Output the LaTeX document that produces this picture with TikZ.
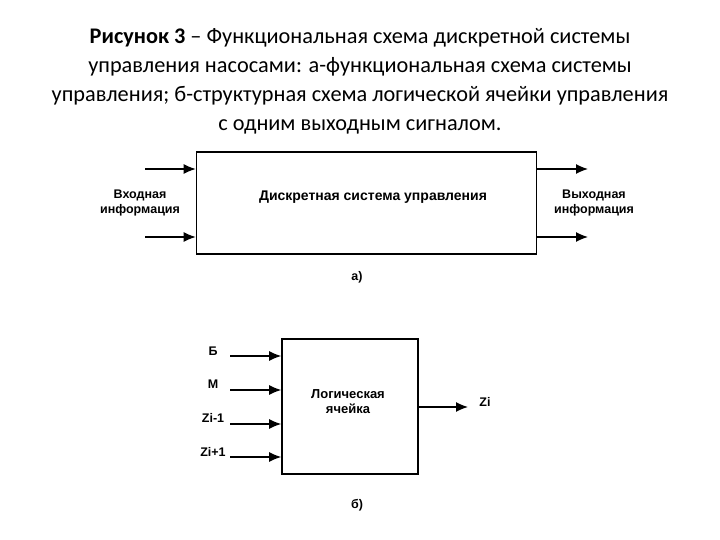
\documentclass[tikz,border=0pt]{standalone}
\usepackage{fontspec}
\setmainfont{Carlito}
\newfontfamily\arialfont{Liberation Sans}
\usetikzlibrary{arrows.meta}

\begin{document}
\begin{tikzpicture}[x=1pt,y=-1pt,
    blok/.style={shape=rectangle,draw=black,line width=1.6pt,inner sep=0pt},
    pil/.style={-{Latex[length=12pt,width=10pt]},line width=1.3pt},
    tekst/.style={font=\arialfont\bfseries\fontsize{12.5}{14.5}\selectfont,align=center,inner sep=0pt}]
    \useasboundingbox (0,0) rectangle (720,540);
    % caption
    \node[font=\fontsize{22.3}{29}\selectfont,align=center] (cap) at (360,81)
        {\textbf{Рисунок 3} -- Функциональная схема дискретной системы\\
         управления насосами: а-функциональная схема системы\\
         управления; б-структурная схема логической ячейки управления\\
         с одним выходным сигналом.};
    % a)
    \node[blok,minimum width=340pt,minimum height=102pt] (sys) at (366.5,203) {};
    \node[tekst,font=\arialfont\bfseries\fontsize{14}{16}\selectfont] (systxt) at (373,197) {Дискретная система управления};
    \coordinate (in1) at (145,169);
    \coordinate (in2) at (145,237);
    \coordinate (out1) at (588,169);
    \coordinate (out2) at (588,237);
    \draw[pil] (in1) -- (in1 -| sys.west);
    \draw[pil] (in2) -- (in2 -| sys.west);
    \draw[pil] (out1 -| sys.east) -- (out1);
    \draw[pil] (out2 -| sys.east) -- (out2);
    \node[tekst] (inlab) at (140,203) {Входная\\информация};
    \node[tekst] (outlab) at (594,203) {Выходная\\информация};
    \node[tekst] (suba) at (357,277) {а)};
    % b)
    \node[blok,minimum width=136pt,minimum height=135pt] (cell) at (350,406.5) {};
    \node[tekst,font=\arialfont\bfseries\fontsize{13}{15}\selectfont] (celltxt) at (348,402) {Логическая\\ячейка};
    \coordinate (b1) at (230,356);
    \coordinate (b2) at (230,390);
    \coordinate (b3) at (230,424);
    \coordinate (b4) at (230,457);
    \coordinate (zout) at (468,407);
    \draw[pil] (b1) -- (b1 -| cell.west);
    \draw[pil] (b2) -- (b2 -| cell.west);
    \draw[pil] (b3) -- (b3 -| cell.west);
    \draw[pil] (b4) -- (b4 -| cell.west);
    \draw[pil] (zout -| cell.east) -- (zout);
    \node[tekst] (lb1) at (213,351) {Б};
    \node[tekst] (lb2) at (213,384) {М};
    \node[tekst] (lb3) at (213,418) {Zi-1};
    \node[tekst] (lb4) at (213,452) {Zi+1};
    \node[tekst] (lzi) at (485,402) {Zi};
    \node[tekst] (subb) at (357,505) {б)};
\end{tikzpicture}
\end{document}
